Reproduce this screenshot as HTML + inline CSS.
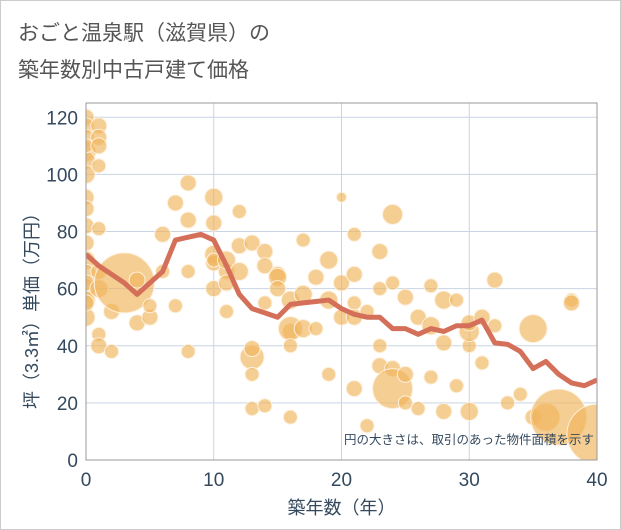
<!DOCTYPE html>
<html><head><meta charset="utf-8"><style>
body{margin:0;background:#fff;}
#wrap{position:relative;width:619px;height:528px;border:1px solid #ccc;background:#fff;font-family:"Liberation Sans","Noto Sans CJK JP",sans-serif;}
.title{position:absolute;left:17px;font-size:21px;color:#555;}
</style></head><body>
<div id="wrap">
<div class="title" style="top:16px">おごと温泉駅（滋賀県）の</div>
<div class="title" style="top:53px">築年数別中古戸建て価格</div>
<svg id="chart" width="621" height="530" style="position:absolute;left:-1px;top:-1px"></svg>
</div>
<script>
const xTicks=[0,10,20,30,40];
const yTicks=[0,20,40,60,80,100,120];
const lineYears=[0,1,2,3,4,5,6,7,8,9,10,11,12,13,14,15,16,17,18,19,20,21,22,23,24,25,26,27,28,29,30,31,32,33,34,35,36,37,38,39,40];
const lineValues=[72,68,65,62,58,62,66,77,78,79,77,68,58,53,51.5,50,54.5,55,55.5,56,53,51,50,50,46,46,44,46,45,47,47,49,41,40.5,38,32,34.5,30,27,26,28];
const bubbleX=[0,0,0,0,0,0,0,0,0,0,0,0,0,0,0,0,0,0,1,1,1,1,1,1,1,1,1,2,2,3,4,4,5,5,6,6,7,7,8,8,8,8,10,10,10,10,10,10,11,11,11,11,12,12,12,13,13,13,13,13,14,14,14,14,15,15,15,16,16,16,16,16,17,17,17,18,18,19,19,19,20,20,20,21,21,21,21,21,22,22,23,23,23,23,24,24,24,24,25,25,25,26,26,27,27,27,28,28,28,29,29,30,30,30,30,31,31,32,32,33,34,35,35,36,37,38,38,40];
const bubbleY=[120,117,113,108,105,100,92,88,82,76,70,65,60,56,50,62,55,110,117,113,110,103,81,66,60,44,40,52,38,62,63,48,50,54,66,79,90,54,97,84,66,38,92,83,72,69,60,70,66,62,52,70,87,75,66,36,39,30,18,76,73,68,55,19,65,64,60,45,56,46,40,15,77,58,46,46,64,70,56,30,92,62,50,79,65,55,50,25,52,12,73,60,40,33,86,62,32,25,57,30,20,50,18,61,47,29,56,41,17,56,26,40,17,45,48,50,34,63,47,20,23,46,15,15,15,56,55,9];
const bubbleR=[8,8,8,10,9,9,8,8,8,8,9,10,10,9,9,8,8,7,8,8,8,7,7,8,9,7,8,8,7,30,8,8,8,7,7,8,8,7,8,8,7,7,9,8,9,8,8,7,8,8,7,9,7,8,9,12,8,7,7,8,8,8,7,7,8,9,8,8,9,12,7,7,7,9,9,7,8,9,9,7,5,8,8,7,8,7,8,8,7,7,8,7,7,8,10,7,8,20,8,8,7,8,7,7,9,7,9,8,8,7,7,7,9,10,8,8,7,8,7,7,7,14,8,14,28,7,8,30];
const NS='http://www.w3.org/2000/svg';
const svg=document.getElementById('chart');
const L=86,R=597,T=103,B=460;
const xs=v=>L+(v/40)*(R-L);
const ys=v=>B-(v/125)*(B-T);
function mk(tag,attrs,parent){const e=document.createElementNS(NS,tag);for(const k in attrs)e.setAttribute(k,attrs[k]);(parent||svg).appendChild(e);return e;}
const defs=mk('defs',{});const cp=mk('clipPath',{id:'cp'},defs);mk('rect',{x:L,y:T,width:R-L,height:B-T},cp);
yTicks.forEach(t=>{const g=mk('line',{x1:L,x2:R,y1:ys(t),y2:ys(t),stroke:'#c9d5e3','stroke-width':1});

const tx=mk('text',{x:L-8,y:ys(t)+7,'text-anchor':'end','font-size':19,fill:'#34495e'});tx.textContent=t;
});
xTicks.forEach(t=>{const g=mk('line',{x1:xs(t),x2:xs(t),y1:T,y2:B,stroke:'#c9d5e3','stroke-width':1});

const tx=mk('text',{x:xs(t),y:B+26,'text-anchor':'middle','font-size':19,fill:'#34495e'});tx.textContent=t;
});
const bg=mk('g',{'clip-path':'url(#cp)'});
bubbleX.forEach((x,i)=>{const c=mk('circle',{cx:xs(x),cy:ys(bubbleY[i]),r:bubbleR[i],fill:'rgba(240,180,90,0.65)',stroke:'#fdf0dc','stroke-width':1},bg);
});
const pl=mk('polyline',{points:lineYears.map((x,i)=>xs(x)+','+ys(lineValues[i])).join(' '),fill:'none',stroke:'#d4705a','stroke-width':5,'stroke-linejoin':'round'},bg);

const fr=mk('rect',{x:L,y:T,width:R-L,height:B-T,fill:'none',stroke:'#999','stroke-width':1});

const note=mk('text',{x:R-3,y:444,'text-anchor':'end','font-size':12.5,fill:'#34495e'});note.textContent='円の大きさは、取引のあった物件面積を示す';

const xt=mk('text',{x:(L+R)/2,y:514,'text-anchor':'middle','font-size':18,fill:'#34495e'});xt.textContent='築年数（年）';

const yt=mk('text',{x:0,y:0,'text-anchor':'middle','font-size':18,fill:'#34495e',transform:'translate(38,'+((T+B)/2+25)+') rotate(-90)'});yt.textContent='坪（3.3㎡）単価（万円）';

</script>
</body></html>
